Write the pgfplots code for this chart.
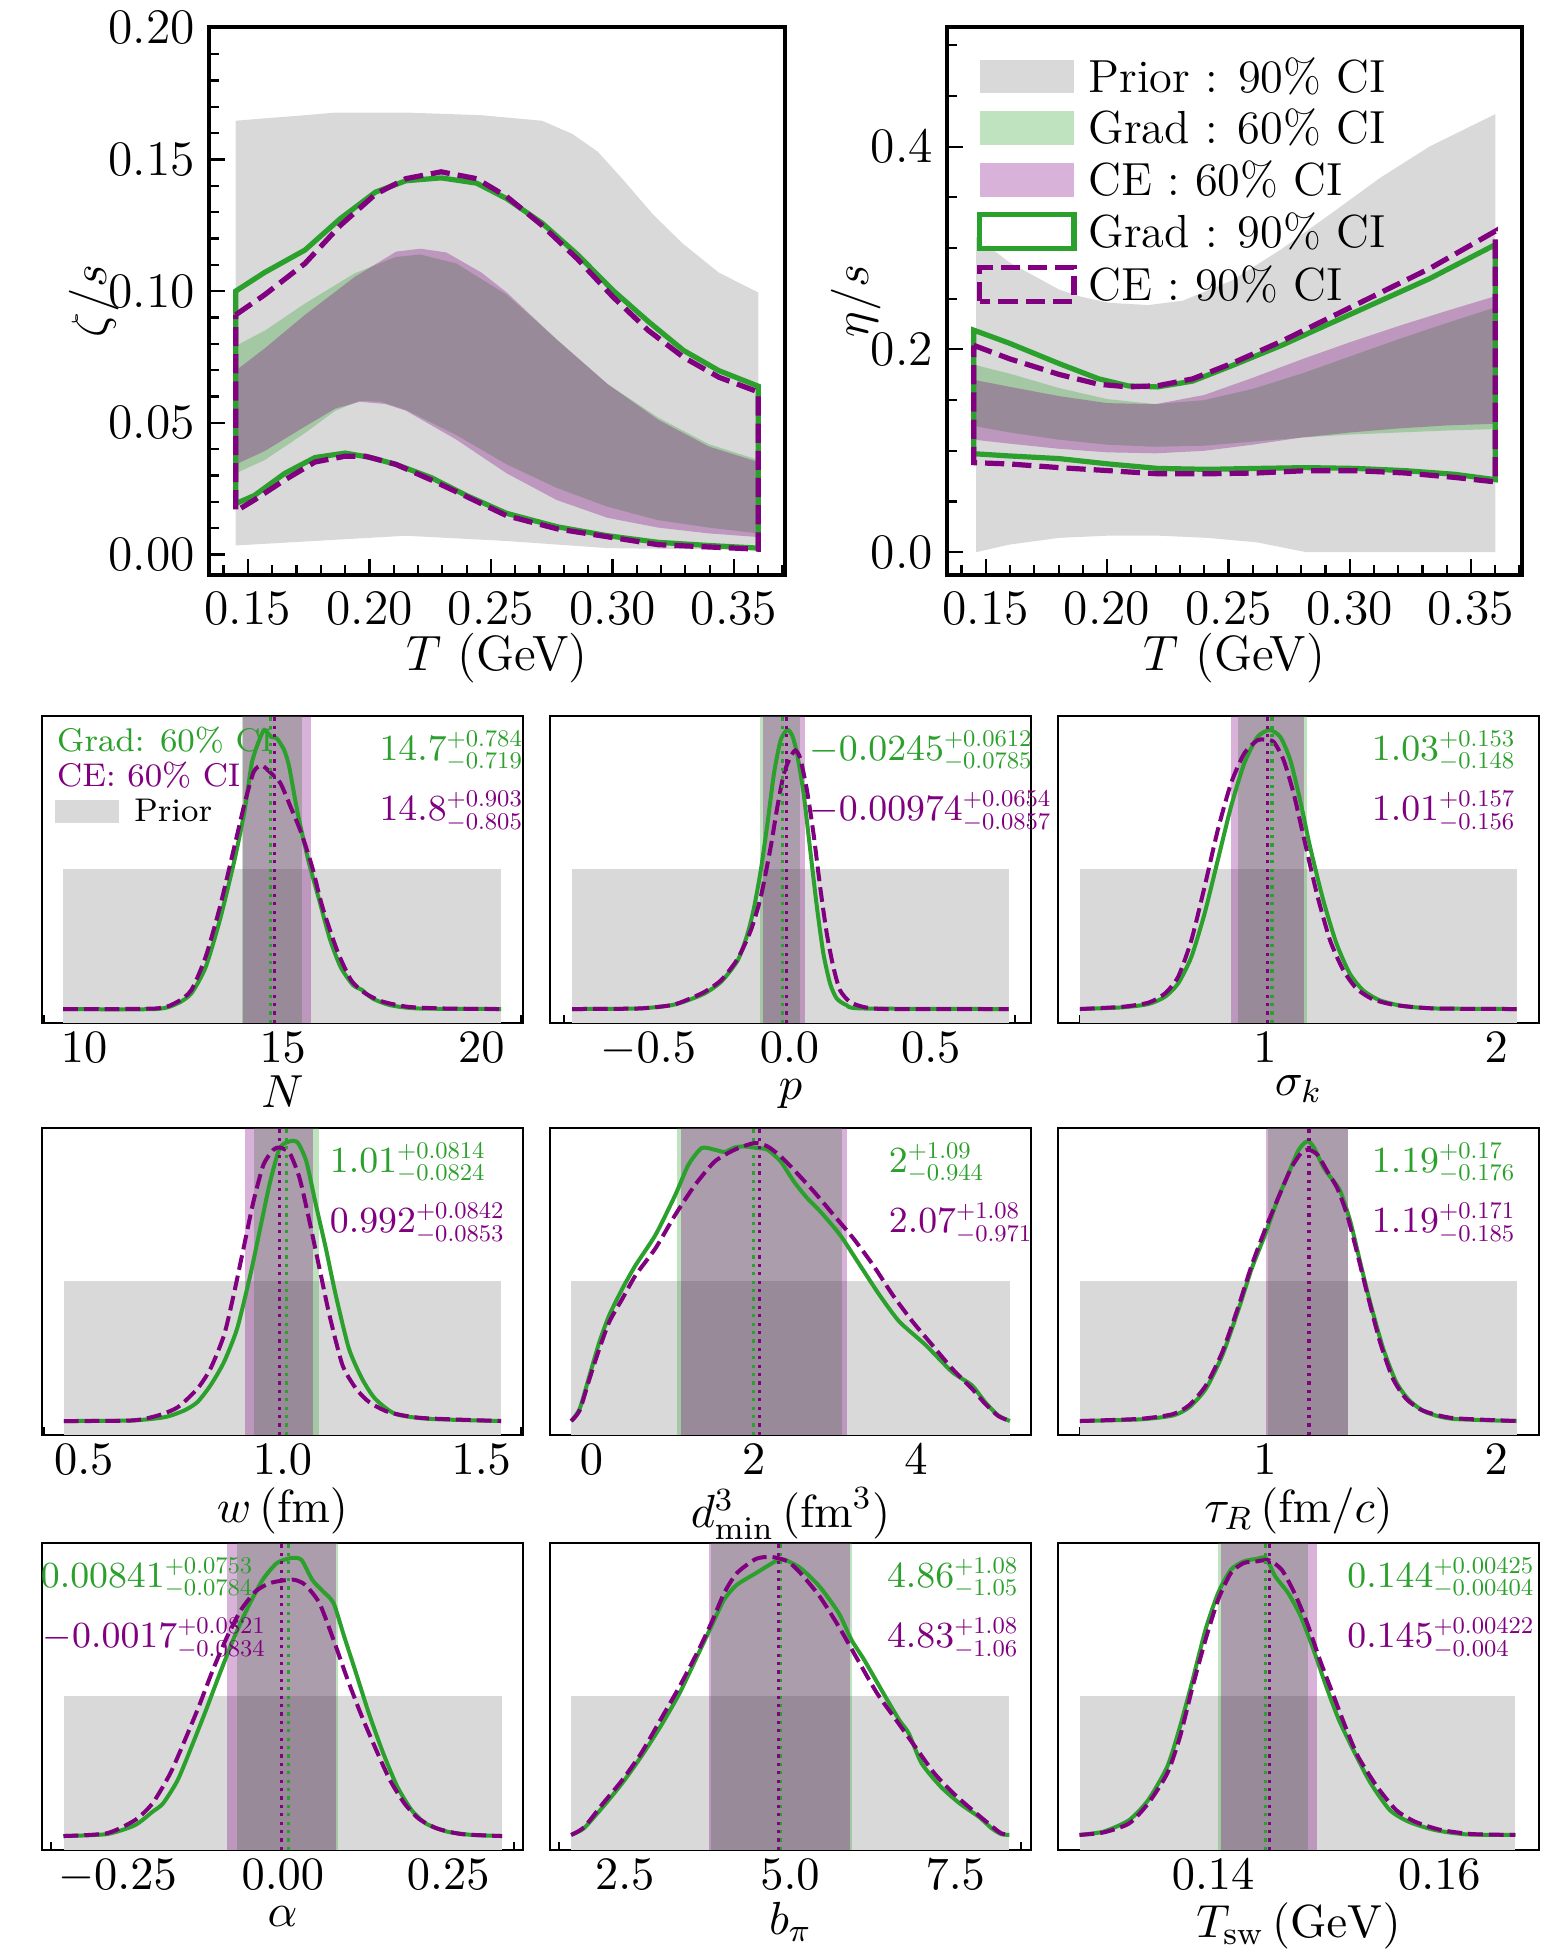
\RequirePackage{fix-cm}
\documentclass[border=0pt]{standalone}
\usepackage{graphicx}
\usepackage{pgfplots}
\pgfplotsset{compat=1.18}
\DeclareMathSizes{11.6}{11.6}{8.1}{5.8}
\DeclareMathSizes{12.4}{12.4}{8.7}{6.2}
\definecolor{cgreen}{HTML}{2CA02C}
\definecolor{cpurp}{HTML}{800080}
\definecolor{priorgray}{HTML}{D9D9D9}
\newcommand{\annv}[3]{$#1$\raisebox{3.6pt}{\makebox[0pt][l]{\scalebox{0.65}{$#2$}}}\raisebox{-2.1pt}{\scalebox{0.65}{$#3$}}}
\pgfplotsset{
 gl/.style={color=cgreen, line width=1pt, smooth, tension=0.4, mark=none},
 pl/.style={color=cpurp, line width=1pt, dash pattern=on 3.7pt off 1.5pt, smooth, tension=0.4, mark=none},
 gmed/.style={color=cgreen, line width=0.8pt, dash pattern=on 0.8pt off 1.3pt, mark=none},
 pmed/.style={color=cpurp, line width=0.8pt, dash pattern=on 0.8pt off 1.3pt, mark=none},
 gband/.style={draw=none, fill=cgreen, fill opacity=0.3, mark=none},
 pband/.style={draw=none, fill=cpurp, fill opacity=0.3, mark=none},
 prior/.style={draw=none, fill=priorgray, mark=none},
 post/.style={anchor=south west, width=120.25pt, height=76.75pt, scale only axis,
   ymin=-0.05, ymax=1.05, ytick=\empty, xtick pos=left, tick align=inside, clip=false,
   axis line style={line width=0.7pt}, major tick length=2.75pt, minor tick length=1.9pt,
   tick style={black, line width=0.5pt},
   xticklabel shift=-1.25pt, xlabel shift=-3.5pt,
   ticklabel style={font=\fontsize{11.6}{13}\selectfont},
   label style={font=\fontsize{11.6}{13}\selectfont}},
 top/.style={anchor=south west, width=144pt, height=137pt, scale only axis,
   xmin=0.134, xmax=0.371,
   xtick={0.15,0.2,0.25,0.3,0.35}, xticklabels={$0.15$,$0.20$,$0.25$,$0.30$,$0.35$},
   minor xtick={0.14,0.16,0.17,0.18,0.19,0.21,0.22,0.23,0.24,0.26,0.27,0.28,0.29,0.31,0.32,0.33,0.34,0.36,0.37},
   xtick pos=left, ytick pos=left, tick align=inside, clip=false,
   axis line style={line width=0.8pt}, major tick length=4pt, minor tick length=2.4pt,
   tick style={black, line width=0.55pt},
   xticklabel shift=0.8pt, xlabel shift=-4.5pt, ylabel shift=-9.5pt,
   ticklabel style={font=\fontsize{12.4}{14}\selectfont},
   label style={font=\fontsize{12.4}{14}\selectfont},
   xlabel={$T$ (GeV)}},
 tg/.style={color=cgreen, line width=1.3pt, mark=none},
 tp/.style={color=cpurp, line width=1.3pt, dash pattern=on 4.8pt off 2pt, mark=none},
}
\tikzset{ann/.style={anchor=base west, inner sep=0pt, font=\fontsize{9.2}{11}\selectfont},
  leg/.style={anchor=base west, inner sep=0pt, font=\fontsize{8.2}{10}\selectfont}}
\begin{document}
\begin{tikzpicture}
\path[use as bounding box] (0,0) rectangle (386.75pt,487.25pt);

% ---------------- top left: zeta/s
\begin{axis}[top, at={(52.25pt,343.5pt)}, width=144pt,
  ymin=-0.0078, ymax=0.2003,
  ytick={0,0.05,0.1,0.15,0.2}, yticklabels={$0.00$,$0.05$,$0.10$,$0.15$,$0.20$},
  minor ytick={0.01,0.02,0.03,0.04,0.06,0.07,0.08,0.09,0.11,0.12,0.13,0.14,0.16,0.17,0.18,0.19},
  ylabel={$\zeta/s$}]
\addplot[prior] coordinates {(0.145,0.1647) (0.157,0.1656) (0.1735,0.1668) (0.186,0.1678) (0.215,0.1678) (0.246,0.1668) (0.271,0.1647) (0.2835,0.1597) (0.294,0.1529) (0.304,0.1427) (0.3168,0.129) (0.329,0.118) (0.3438,0.107) (0.36,0.0995)
 (0.36,0.0017) (0.298,0.0024) (0.2565,0.0051) (0.215,0.0071) (0.145,0.0034)} -- cycle;
\addplot[gband] coordinates {(0.145,0.0792) (0.157,0.085) (0.1735,0.0953) (0.194,0.1068) (0.211,0.113) (0.221,0.1139) (0.2358,0.1105) (0.2565,0.0986) (0.277,0.0817) (0.298,0.0647) (0.3188,0.052) (0.3396,0.0419) (0.36,0.0359)
 (0.36,0.008) (0.3396,0.0102) (0.3188,0.013) (0.298,0.0181) (0.277,0.0253) (0.2565,0.0342) (0.2358,0.0453) (0.215,0.0549) (0.2046,0.058) (0.196,0.0583) (0.186,0.0546) (0.1735,0.0461) (0.157,0.0359) (0.145,0.0308)} -- cycle;
\addplot[pband] coordinates {(0.145,0.0698) (0.157,0.0783) (0.1735,0.091) (0.194,0.1054) (0.211,0.115) (0.221,0.1161) (0.2316,0.1147) (0.246,0.1071) (0.2565,0.0995) (0.277,0.0817) (0.298,0.0647) (0.3188,0.0512) (0.3396,0.041) (0.36,0.0351)
 (0.36,0.0066) (0.3396,0.008) (0.3188,0.0102) (0.298,0.0139) (0.277,0.0207) (0.2565,0.0308) (0.2358,0.0436) (0.215,0.0546) (0.2067,0.0571) (0.196,0.058) (0.186,0.0554) (0.1735,0.0486) (0.157,0.0393) (0.145,0.0342)} -- cycle;
\addplot[tg] coordinates {(0.145,0.1) (0.1569,0.1071) (0.1735,0.1156) (0.188,0.1275) (0.2025,0.1376) (0.215,0.1419) (0.2295,0.143) (0.2441,0.141) (0.2565,0.1351) (0.2711,0.1258) (0.2856,0.1139) (0.3002,0.1003) (0.3147,0.0885) (0.3292,0.0775) (0.3438,0.0698) (0.36,0.0639)
 (0.36,0.0024) (0.3396,0.0034) (0.3188,0.0046) (0.2981,0.0071) (0.2773,0.0105) (0.2565,0.0156) (0.2399,0.0224) (0.2254,0.0292) (0.2109,0.0342) (0.2005,0.0368) (0.19,0.0385) (0.1776,0.0368) (0.1652,0.0308) (0.1527,0.0224) (0.145,0.0193)} -- cycle;
\addplot[tp] coordinates {(0.145,0.091) (0.1569,0.0986) (0.1735,0.1105) (0.188,0.1249) (0.2025,0.1368) (0.215,0.1427) (0.2295,0.1453) (0.2441,0.1427) (0.2565,0.1359) (0.2711,0.1249) (0.2856,0.1122) (0.3002,0.0978) (0.3147,0.0851) (0.3292,0.0749) (0.3438,0.0673) (0.36,0.0617)
 (0.36,0.002) (0.3188,0.0037) (0.2773,0.0097) (0.2565,0.0147) (0.2399,0.022) (0.2254,0.0283) (0.2109,0.0342) (0.1984,0.0373) (0.19,0.0373) (0.1776,0.0351) (0.1652,0.0283) (0.1527,0.0207) (0.145,0.0164)} -- cycle;
\end{axis}

% ---------------- top right: eta/s
\begin{axis}[top, at={(236.75pt,343.5pt)}, width=143.75pt,
  ymin=-0.0225, ymax=0.518,
  ytick={0,0.2,0.4}, yticklabels={$0.0$,$0.2$,$0.4$},
  minor ytick={0.05,0.1,0.15,0.25,0.3,0.35,0.45,0.5},
  ylabel={$\eta/s$}]
\addplot[prior] coordinates {(0.146,0.311) (0.1598,0.2857) (0.1802,0.259) (0.1892,0.252) (0.2006,0.246) (0.2169,0.2437) (0.2311,0.248) (0.2515,0.268) (0.2719,0.299) (0.2923,0.334) (0.3127,0.3695) (0.3331,0.4004) (0.36,0.432)
 (0.36,0) (0.2821,0) (0.2617,0.0097) (0.2413,0.0141) (0.2209,0.0163) (0.2006,0.0163) (0.1802,0.0141) (0.1598,0.0075) (0.146,0)} -- cycle;
\addplot[gband] coordinates {(0.145,0.185) (0.16,0.176) (0.18,0.162) (0.20,0.151) (0.22,0.146) (0.24,0.150) (0.26,0.161) (0.28,0.176) (0.30,0.193) (0.32,0.21) (0.34,0.226) (0.36,0.2415)
 (0.36,0.1214) (0.34,0.120) (0.32,0.118) (0.30,0.116) (0.28,0.113) (0.26,0.109) (0.24,0.105) (0.22,0.104) (0.20,0.106) (0.18,0.111) (0.16,0.118) (0.145,0.1245)} -- cycle;
\addplot[pband] coordinates {(0.145,0.17) (0.16,0.163) (0.18,0.154) (0.20,0.147) (0.22,0.146) (0.24,0.155) (0.26,0.172) (0.28,0.19) (0.30,0.207) (0.32,0.223) (0.34,0.238) (0.36,0.2525)
 (0.36,0.1267) (0.34,0.125) (0.32,0.122) (0.30,0.118) (0.28,0.113) (0.26,0.106) (0.24,0.1) (0.22,0.0975) (0.20,0.0985) (0.18,0.102) (0.16,0.107) (0.145,0.111)} -- cycle;
\addplot[tg] coordinates {(0.145,0.219) (0.1598,0.206) (0.1802,0.186) (0.1965,0.171) (0.2087,0.164) (0.2209,0.163) (0.2352,0.1687) (0.2515,0.184) (0.2719,0.204) (0.2923,0.226) (0.3127,0.248) (0.3331,0.27) (0.36,0.3033)
 (0.36,0.0715) (0.3433,0.0768) (0.3229,0.0804) (0.3025,0.0826) (0.2821,0.0834) (0.2617,0.0826) (0.2413,0.0817) (0.2209,0.0826) (0.2006,0.087) (0.1802,0.0923) (0.1598,0.0949) (0.145,0.0971)} -- cycle;
\addplot[tp] coordinates {(0.145,0.204) (0.1598,0.1907) (0.1802,0.1753) (0.1965,0.1656) (0.2087,0.163) (0.2209,0.1642) (0.2352,0.1709) (0.2515,0.1863) (0.2719,0.208) (0.2923,0.232) (0.3127,0.256) (0.3331,0.28) (0.36,0.3166)
 (0.36,0.0693) (0.3433,0.0737) (0.3229,0.0781) (0.3025,0.0804) (0.2821,0.0804) (0.2617,0.0781) (0.2413,0.0773) (0.2209,0.0773) (0.2006,0.0804) (0.1802,0.0834) (0.1598,0.087) (0.145,0.0883)} -- cycle;
% legend
\fill[priorgray] (rel axis cs:0.057,0.8795) rectangle (rel axis cs:0.221,0.9405);
\fill[cgreen, opacity=0.3] (rel axis cs:0.057,0.7855) rectangle (rel axis cs:0.221,0.8465);
\fill[cpurp, opacity=0.3] (rel axis cs:0.057,0.6905) rectangle (rel axis cs:0.221,0.7515);
\draw[cgreen, line width=1.3pt, fill=white] (rel axis cs:0.057,0.5965) rectangle (rel axis cs:0.221,0.6575);
\draw[cpurp, line width=1.3pt, dash pattern=on 4.8pt off 2pt] (rel axis cs:0.057,0.4995) rectangle (rel axis cs:0.221,0.5605);
\begin{scope}[every node/.style={anchor=west, inner sep=0pt, font=\fontsize{11.6}{14}\selectfont}]
\node at (rel axis cs:0.245,0.91) {Prior : 90\% CI};
\node at (rel axis cs:0.245,0.816) {Grad : 60\% CI};
\node at (rel axis cs:0.245,0.721) {CE : 60\% CI};
\node at (rel axis cs:0.245,0.627) {Grad : 90\% CI};
\node at (rel axis cs:0.245,0.53) {CE : 90\% CI};
\end{scope}
\end{axis}

% ---------------- row 1
\begin{axis}[post, at={(10.5pt,231.5pt)}, xmin=8.94, xmax=21.05,
  xtick={10,15,20}, xticklabels={$10$,$15$,$20$},
  minor xtick={9,11,12,13,14,16,17,18,19,21}, xlabel={$N$}]
\addplot[prior] coordinates {(9.46,-0.05) (20.5,-0.05) (20.5,0.5) (9.46,0.5)} -- cycle;
\addplot[gband] coordinates {(13.981,-0.05) (15.484,-0.05) (15.484,1.05) (13.981,1.05)} -- cycle;
\addplot[pband] coordinates {(13.995,-0.05) (15.703,-0.05) (15.703,1.05) (13.995,1.05)} -- cycle;
\addplot[gl] coordinates {(9.47,0) (11.8,0) (12.35,0.02) (12.7,0.056) (13.06,0.15) (13.42,0.32) (13.78,0.53) (14.04,0.71) (14.22,0.88) (14.4,0.96) (14.54,1.0) (14.71,0.975) (14.85,0.97) (15.03,0.93) (15.16,0.87) (15.38,0.70) (15.65,0.53) (15.92,0.39) (16.19,0.25) (16.46,0.15) (16.77,0.086) (17.0,0.068) (17.26,0.038) (17.7,0.014) (18.42,0.002) (20.5,0)};
\addplot[pl] coordinates {(9.47,0) (11.8,0.002) (12.35,0.026) (12.7,0.068) (13.06,0.187) (13.42,0.366) (13.78,0.58) (14.04,0.736) (14.27,0.85) (14.47,0.873) (14.67,0.85) (14.94,0.81) (15.2,0.724) (15.47,0.63) (15.74,0.51) (16.0,0.366) (16.37,0.21) (16.72,0.104) (17.08,0.056) (17.53,0.026) (18.15,0.008) (19.04,0.002) (20.5,0)};
\addplot[gmed] coordinates {(14.7,-0.05) (14.7,1.05)};
\addplot[pmed] coordinates {(14.8,-0.05) (14.8,1.05)};
\node[ann, text=cgreen] at (rel axis cs:0.70,0.855) {\annv{14.7}{+0.784}{-0.719}};
\node[ann, text=cpurp] at (rel axis cs:0.70,0.658) {\annv{14.8}{+0.903}{-0.805}};
\node[leg, text=cgreen] at (rel axis cs:0.03,0.883) {Grad: 60\% CI};
\node[leg, text=cpurp] at (rel axis cs:0.03,0.769) {CE: 60\% CI};
\fill[priorgray] (rel axis cs:0.027,0.651) rectangle (rel axis cs:0.16,0.725);
\node[leg] at (rel axis cs:0.19,0.655) {Prior};
\end{axis}

\begin{axis}[post, at={(137.5pt,231.5pt)}, xmin=-0.848, xmax=0.855,
  xtick={-0.5,0,0.5}, xticklabels={$-0.5$,$0.0$,$0.5$},
  minor xtick={-0.8,-0.7,-0.6,-0.4,-0.3,-0.2,-0.1,0.1,0.2,0.3,0.4,0.6,0.7,0.8}, xlabel={$p$}]
\addplot[prior] coordinates {(-0.77,-0.05) (0.776,-0.05) (0.776,0.5) (-0.77,0.5)} -- cycle;
\addplot[gband] coordinates {(-0.103,-0.05) (0.0367,-0.05) (0.0367,1.05) (-0.103,1.05)} -- cycle;
\addplot[pband] coordinates {(-0.0954,-0.05) (0.0557,-0.05) (0.0557,1.05) (-0.0954,1.05)} -- cycle;
\addplot[gl] coordinates {(-0.77,0) (-0.533,0.002) (-0.417,0.014) (-0.358,0.032) (-0.3,0.056) (-0.2415,0.098) (-0.183,0.175) (-0.148,0.271) (-0.125,0.366) (-0.1015,0.498) (-0.078,0.665) (-0.055,0.843) (-0.0315,0.963) (-0.008,1.0) (0.0093,0.981) (0.0268,0.915) (0.05,0.772) (0.0735,0.569) (0.097,0.366) (0.12,0.199) (0.1435,0.092) (0.167,0.038) (0.202,0.014) (0.26,0.002) (0.776,0)};
\addplot[pl] coordinates {(-0.77,0) (-0.533,0.002) (-0.417,0.014) (-0.358,0.035) (-0.3,0.062) (-0.2415,0.104) (-0.183,0.181) (-0.1365,0.283) (-0.1015,0.402) (-0.0665,0.581) (-0.043,0.724) (-0.02,0.843) (0.0035,0.903) (0.021,0.927) (0.0385,0.897) (0.0618,0.784) (0.085,0.629) (0.1085,0.438) (0.132,0.271) (0.155,0.152) (0.1785,0.068) (0.2135,0.026) (0.26,0.008) (0.342,0) (0.776,0)};
\addplot[gmed] coordinates {(-0.0245,-0.05) (-0.0245,1.05)};
\addplot[pmed] coordinates {(-0.00974,-0.05) (-0.00974,1.05)};
\node[ann, text=cgreen] at (rel axis cs:0.538,0.855) {\annv{-0.0245}{+0.0612}{-0.0785}};
\node[ann, text=cpurp] at (rel axis cs:0.538,0.658) {\annv{-0.00974}{+0.0654}{-0.0857}};
\end{axis}

\begin{axis}[post, at={(264.5pt,231.5pt)}, xmin=0.1055, xmax=2.1845,
  xtick={1,2}, xticklabels={$1$,$2$},
  minor xtick={0.2,0.4,0.6,0.8,1.2,1.4,1.6,1.8}, xlabel={$\sigma_k$}]
\addplot[prior] coordinates {(0.2,-0.05) (2.09,-0.05) (2.09,0.5) (0.2,0.5)} -- cycle;
\addplot[gband] coordinates {(0.882,-0.05) (1.183,-0.05) (1.183,1.05) (0.882,1.05)} -- cycle;
\addplot[pband] coordinates {(0.854,-0.05) (1.167,-0.05) (1.167,1.05) (0.854,1.05)} -- cycle;
\addplot[gl] coordinates {(0.2,0) (0.383,0.006) (0.497,0.018) (0.568,0.044) (0.625,0.092) (0.682,0.187) (0.739,0.342) (0.796,0.533) (0.853,0.724) (0.91,0.879) (0.967,0.974) (1.02,1.0) (1.067,0.974) (1.11,0.891) (1.152,0.748) (1.195,0.581) (1.252,0.39) (1.309,0.235) (1.366,0.128) (1.423,0.068) (1.494,0.032) (1.594,0.011) (1.736,0.002) (2.088,0)};
\addplot[pl] coordinates {(0.2,0) (0.383,0.008) (0.497,0.023) (0.568,0.056) (0.625,0.116) (0.682,0.247) (0.739,0.438) (0.796,0.641) (0.853,0.808) (0.91,0.915) (0.967,0.963) (1.0,0.965) (1.038,0.957) (1.081,0.891) (1.124,0.772) (1.167,0.617) (1.224,0.414) (1.281,0.247) (1.338,0.14) (1.395,0.074) (1.466,0.035) (1.566,0.014) (1.736,0.002) (2.088,0)};
\addplot[gmed] coordinates {(1.03,-0.05) (1.03,1.05)};
\addplot[pmed] coordinates {(1.01,-0.05) (1.01,1.05)};
\node[ann, text=cgreen] at (rel axis cs:0.651,0.855) {\annv{1.03}{+0.153}{-0.148}};
\node[ann, text=cpurp] at (rel axis cs:0.651,0.658) {\annv{1.01}{+0.157}{-0.156}};
\end{axis}

% ---------------- row 2
\begin{axis}[post, at={(10.5pt,128.5pt)}, xmin=0.395, xmax=1.605,
  xtick={0.5,1,1.5}, xticklabels={$0.5$,$1.0$,$1.5$},
  minor xtick={0.4,0.6,0.7,0.8,0.9,1.1,1.2,1.3,1.4,1.6}, xlabel={$w\,(\mathrm{fm})$}]
\addplot[prior] coordinates {(0.45,-0.05) (1.55,-0.05) (1.55,0.5) (0.45,0.5)} -- cycle;
\addplot[gband] coordinates {(0.9276,-0.05) (1.0914,-0.05) (1.0914,1.05) (0.9276,1.05)} -- cycle;
\addplot[pband] coordinates {(0.9067,-0.05) (1.0762,-0.05) (1.0762,1.05) (0.9067,1.05)} -- cycle;
\addplot[gl] coordinates {(0.45,0) (0.621,0.002) (0.704,0.014) (0.753,0.038) (0.786,0.068) (0.819,0.128) (0.853,0.212) (0.886,0.332) (0.919,0.523) (0.944,0.691) (0.969,0.858) (0.993,0.978) (1.018,1.002) (1.038,0.998) (1.06,0.93) (1.084,0.775) (1.109,0.619) (1.134,0.451) (1.167,0.26) (1.2,0.152) (1.233,0.08) (1.283,0.026) (1.366,0.008) (1.55,0)};
\addplot[pl] coordinates {(0.45,0) (0.621,0.002) (0.687,0.02) (0.737,0.05) (0.786,0.116) (0.819,0.188) (0.853,0.308) (0.877,0.451) (0.902,0.619) (0.927,0.787) (0.952,0.918) (0.977,0.972) (0.993,0.98) (1.018,0.96) (1.043,0.87) (1.068,0.715) (1.093,0.547) (1.118,0.38) (1.151,0.2) (1.185,0.116) (1.218,0.068) (1.267,0.032) (1.35,0.011) (1.55,0)};
\addplot[gmed] coordinates {(1.01,-0.05) (1.01,1.05)};
\addplot[pmed] coordinates {(0.992,-0.05) (0.992,1.05)};
\node[ann, text=cgreen] at (rel axis cs:0.597,0.855) {\annv{1.01}{+0.0814}{-0.0824}};
\node[ann, text=cpurp] at (rel axis cs:0.597,0.658) {\annv{0.992}{+0.0842}{-0.0853}};
\end{axis}

\begin{axis}[post, at={(137.5pt,128.5pt)}, xmin=-0.512, xmax=5.42,
  xtick={0,2,4}, xticklabels={$0$,$2$,$4$},
  minor xtick={0.5,1,1.5,2.5,3,3.5,4.5,5}, xlabel={$d^3_{\mathrm{min}}\,(\mathrm{fm}^3)$}]
\addplot[prior] coordinates {(-0.25,-0.05) (5.16,-0.05) (5.16,0.5) (-0.25,0.5)} -- cycle;
\addplot[gband] coordinates {(1.056,-0.05) (3.09,-0.05) (3.09,1.05) (1.056,1.05)} -- cycle;
\addplot[pband] coordinates {(1.099,-0.05) (3.15,-0.05) (3.15,1.05) (1.099,1.05)} -- cycle;
\addplot[gl] coordinates {(-0.25,0) (-0.146,0.044) (-0.024,0.164) (0.098,0.284) (0.22,0.38) (0.382,0.475) (0.545,0.559) (0.789,0.667) (1.033,0.81) (1.195,0.918) (1.358,0.978) (1.52,0.972) (1.642,0.964) (1.764,0.98) (1.886,0.984) (2.049,0.978) (2.171,0.972) (2.333,0.93) (2.496,0.858) (2.659,0.799) (2.821,0.751) (3.065,0.667) (3.309,0.559) (3.553,0.451) (3.797,0.356) (4.122,0.272) (4.447,0.176) (4.691,0.128) (4.854,0.068) (5.016,0.02) (5.16,0)};
\addplot[pl] coordinates {(-0.25,0) (-0.146,0.038) (-0.024,0.152) (0.098,0.26) (0.22,0.356) (0.382,0.439) (0.545,0.523) (0.789,0.619) (1.033,0.739) (1.277,0.846) (1.52,0.93) (1.764,0.972) (2.008,0.996) (2.171,0.984) (2.333,0.948) (2.496,0.9) (2.74,0.823) (2.984,0.739) (3.228,0.655) (3.472,0.559) (3.716,0.451) (3.96,0.356) (4.203,0.272) (4.447,0.188) (4.691,0.116) (4.854,0.062) (5.016,0.018) (5.16,0)};
\addplot[gmed] coordinates {(2,-0.05) (2,1.05)};
\addplot[pmed] coordinates {(2.07,-0.05) (2.07,1.05)};
\node[ann, text=cgreen] at (rel axis cs:0.703,0.855) {\annv{2}{+1.09}{-0.944}};
\node[ann, text=cpurp] at (rel axis cs:0.703,0.658) {\annv{2.07}{+1.08}{-0.971}};
\end{axis}

\begin{axis}[post, at={(264.5pt,128.5pt)}, xmin=0.1055, xmax=2.1845,
  xtick={1,2}, xticklabels={$1$,$2$},
  minor xtick={0.2,0.4,0.6,0.8,1.2,1.4,1.6,1.8}, xlabel={$\tau_R\,(\mathrm{fm}/c)$}]
\addplot[prior] coordinates {(0.2,-0.05) (2.09,-0.05) (2.09,0.5) (0.2,0.5)} -- cycle;
\addplot[gband] coordinates {(1.014,-0.05) (1.36,-0.05) (1.36,1.05) (1.014,1.05)} -- cycle;
\addplot[pband] coordinates {(1.005,-0.05) (1.361,-0.05) (1.361,1.05) (1.005,1.05)} -- cycle;
\addplot[gl] coordinates {(0.2,0) (0.461,0.006) (0.603,0.02) (0.674,0.05) (0.745,0.116) (0.816,0.236) (0.887,0.403) (0.943,0.547) (1.0,0.667) (1.057,0.799) (1.099,0.882) (1.142,0.966) (1.17,0.996) (1.189,1.002) (1.213,0.978) (1.255,0.906) (1.298,0.858) (1.326,0.823) (1.369,0.715) (1.411,0.571) (1.454,0.427) (1.511,0.26) (1.567,0.14) (1.624,0.074) (1.695,0.032) (1.809,0.008) (2.088,0)};
\addplot[pl] coordinates {(0.2,0) (0.461,0.008) (0.603,0.025) (0.674,0.058) (0.745,0.128) (0.816,0.248) (0.887,0.415) (0.943,0.559) (1.0,0.685) (1.057,0.799) (1.113,0.906) (1.156,0.96) (1.189,0.972) (1.227,0.954) (1.27,0.894) (1.312,0.835) (1.355,0.739) (1.397,0.607) (1.44,0.463) (1.497,0.284) (1.553,0.152) (1.61,0.08) (1.681,0.038) (1.809,0.011) (2.088,0)};
\addplot[gmed] coordinates {(1.19,-0.05) (1.19,1.05)};
\addplot[pmed] coordinates {(1.19,-0.05) (1.19,1.05)};
\node[ann, text=cgreen] at (rel axis cs:0.651,0.855) {\annv{1.19}{+0.17}{-0.176}};
\node[ann, text=cpurp] at (rel axis cs:0.651,0.658) {\annv{1.19}{+0.171}{-0.185}};
\end{axis}

% ---------------- row 3
\begin{axis}[post, at={(10.5pt,24.75pt)}, xmin=-0.364, xmax=0.363,
  xtick={-0.25,0,0.25}, xticklabels={$-0.25$,$0.00$,$0.25$},
  minor xtick={-0.35,-0.3,-0.2,-0.15,-0.1,-0.05,0.05,0.1,0.15,0.2,0.3,0.35}, xlabel={$\alpha$}]
\addplot[prior] coordinates {(-0.3315,-0.05) (0.3315,-0.05) (0.3315,0.5) (-0.3315,0.5)} -- cycle;
\addplot[gband] coordinates {(-0.07,-0.05) (0.0837,-0.05) (0.0837,1.05) (-0.07,1.05)} -- cycle;
\addplot[pband] coordinates {(-0.0851,-0.05) (0.0804,-0.05) (0.0804,1.05) (-0.0851,1.05)} -- cycle;
\addplot[gl] coordinates {(-0.3315,0) (-0.266,0.007) (-0.2235,0.039) (-0.197,0.087) (-0.181,0.117) (-0.159,0.2) (-0.138,0.32) (-0.116,0.452) (-0.095,0.584) (-0.073,0.715) (-0.052,0.823) (-0.0305,0.918) (-0.009,0.978) (0.0123,0.996) (0.028,0.99) (0.0445,0.918) (0.0606,0.877) (0.0766,0.835) (0.0927,0.715) (0.109,0.596) (0.13,0.44) (0.1517,0.297) (0.173,0.177) (0.1946,0.093) (0.216,0.045) (0.248,0.016) (0.286,0.004) (0.3315,0)};
\addplot[pl] coordinates {(-0.3315,0) (-0.266,0.01) (-0.2235,0.057) (-0.197,0.117) (-0.17,0.225) (-0.148,0.344) (-0.127,0.464) (-0.1056,0.596) (-0.084,0.715) (-0.063,0.811) (-0.041,0.877) (-0.02,0.906) (0.0016,0.916) (0.0177,0.918) (0.0338,0.9) (0.0552,0.835) (0.0766,0.703) (0.098,0.56) (0.1195,0.428) (0.141,0.309) (0.162,0.2) (0.1838,0.117) (0.205,0.063) (0.232,0.028) (0.27,0.007) (0.3315,0)};
\addplot[gmed] coordinates {(0.00841,-0.05) (0.00841,1.05)};
\addplot[pmed] coordinates {(-0.0017,-0.05) (-0.0017,1.05)};
\node[ann, text=cgreen] at (rel axis cs:-0.004,0.855) {\annv{0.00841}{+0.0753}{-0.0784}};
\node[ann, text=cpurp] at (rel axis cs:0.0,0.658) {\annv{-0.0017}{+0.0821}{-0.0834}};
\end{axis}

\begin{axis}[post, at={(137.5pt,24.75pt)}, xmin=1.37, xmax=8.646,
  xtick={2.5,5,7.5}, xticklabels={$2.5$,$5.0$,$7.5$},
  minor xtick={1.5,2,3,3.5,4,4.5,5.5,6,6.5,7,8,8.5}, xlabel={$b_\pi$}]
\addplot[prior] coordinates {(1.69,-0.05) (8.32,-0.05) (8.32,0.5) (1.69,0.5)} -- cycle;
\addplot[gband] coordinates {(3.81,-0.05) (5.94,-0.05) (5.94,1.05) (3.81,1.05)} -- cycle;
\addplot[pband] coordinates {(3.77,-0.05) (5.91,-0.05) (5.91,1.05) (3.77,1.05)} -- cycle;
\addplot[gl] coordinates {(1.69,0.004) (1.883,0.028) (2.172,0.105) (2.461,0.189) (2.75,0.285) (3.04,0.392) (3.33,0.512) (3.618,0.655) (3.81,0.751) (4.003,0.847) (4.196,0.9) (4.485,0.942) (4.778,0.984) (4.918,0.99) (5.159,0.96) (5.448,0.894) (5.737,0.799) (5.93,0.703) (6.123,0.631) (6.412,0.512) (6.652,0.416) (6.797,0.368) (6.99,0.261) (7.28,0.177) (7.567,0.117) (7.856,0.069) (8.049,0.028) (8.194,0.007) (8.32,0.004)};
\addplot[pl] coordinates {(1.69,0.004) (1.883,0.031) (2.172,0.117) (2.461,0.2) (2.75,0.297) (3.04,0.416) (3.33,0.536) (3.618,0.667) (3.81,0.763) (4.003,0.87) (4.196,0.942) (4.485,0.993) (4.725,1.0) (4.966,0.984) (5.159,0.942) (5.448,0.859) (5.737,0.751) (6.026,0.631) (6.316,0.512) (6.605,0.416) (6.894,0.32) (7.183,0.225) (7.472,0.153) (7.76,0.093) (8.049,0.036) (8.194,0.01) (8.32,0.004)};
\addplot[gmed] coordinates {(4.86,-0.05) (4.86,1.05)};
\addplot[pmed] coordinates {(4.83,-0.05) (4.83,1.05)};
\node[ann, text=cgreen] at (rel axis cs:0.699,0.855) {\annv{4.86}{+1.08}{-1.05}};
\node[ann, text=cpurp] at (rel axis cs:0.699,0.658) {\annv{4.83}{+1.08}{-1.06}};
\end{axis}

\begin{axis}[post, at={(264.5pt,24.75pt)}, xmin=0.1263, xmax=0.1688,
  xtick={0.14,0.16}, xticklabels={$0.14$,$0.16$},
  minor xtick={0.13,0.135,0.145,0.15,0.155,0.165}, xlabel={$T_{\mathrm{sw}}\,(\mathrm{GeV})$}]
\addplot[prior] coordinates {(0.1282,-0.05) (0.1667,-0.05) (0.1667,0.5) (0.1282,0.5)} -- cycle;
\addplot[gband] coordinates {(0.14045,-0.05) (0.1484,-0.05) (0.1484,1.05) (0.14045,1.05)} -- cycle;
\addplot[pband] coordinates {(0.1407,-0.05) (0.1492,-0.05) (0.1492,1.05) (0.1407,1.05)} -- cycle;
\addplot[gl] coordinates {(0.1282,0.004) (0.13034,0.016) (0.13258,0.057) (0.13427,0.129) (0.13596,0.249) (0.13708,0.392) (0.1382,0.56) (0.13933,0.739) (0.14045,0.871) (0.14157,0.954) (0.1427,0.984) (0.14382,0.993) (0.14466,0.996) (0.1455,0.93) (0.14663,0.871) (0.14775,0.787) (0.14888,0.667) (0.15,0.536) (0.15112,0.416) (0.15253,0.297) (0.15393,0.189) (0.15562,0.093) (0.1573,0.051) (0.15955,0.022) (0.16236,0.006) (0.1667,0.004)};
\addplot[pl] coordinates {(0.1282,0.004) (0.13034,0.013) (0.13258,0.045) (0.13427,0.117) (0.13596,0.225) (0.13708,0.356) (0.1382,0.536) (0.13933,0.703) (0.14045,0.847) (0.14157,0.942) (0.1427,0.978) (0.14382,0.984) (0.14494,0.988) (0.14607,0.954) (0.14719,0.871) (0.14831,0.763) (0.14944,0.631) (0.15056,0.512) (0.15169,0.392) (0.15281,0.285) (0.15449,0.177) (0.15618,0.093) (0.15787,0.051) (0.16011,0.022) (0.16292,0.007) (0.1667,0.004)};
\addplot[gmed] coordinates {(0.1446,-0.05) (0.1446,1.05)};
\addplot[pmed] coordinates {(0.145,-0.05) (0.145,1.05)};
\node[ann, text=cgreen] at (rel axis cs:0.60,0.855) {\annv{0.144}{+0.00425}{-0.00404}};
\node[ann, text=cpurp] at (rel axis cs:0.60,0.658) {\annv{0.145}{+0.00422}{-0.004}};
\end{axis}
\end{tikzpicture}
\end{document}
